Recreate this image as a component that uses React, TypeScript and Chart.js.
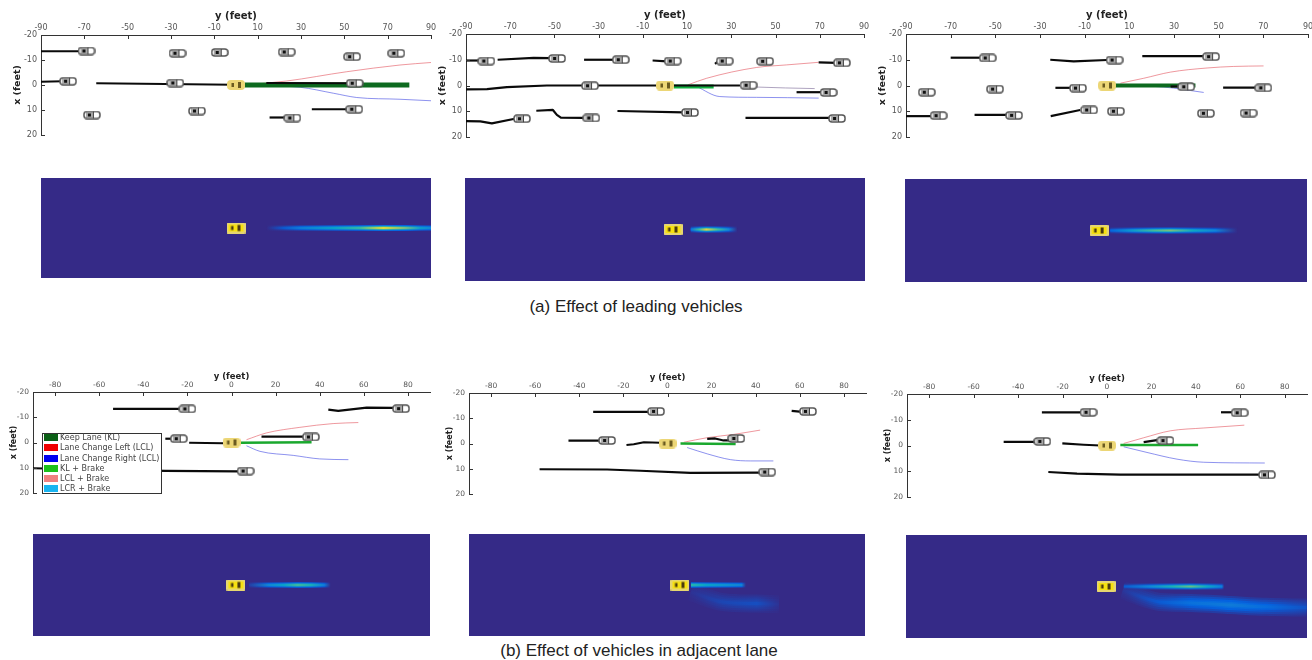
import React, { useEffect, useRef } from "react";
import { Chart, registerables } from "chart.js";

Chart.register(...registerables);

type Pt = number[];

const topTicks = [-90, -70, -50, -30, -10, 10, 30, 50, 70, 90];
const bottomTicks = [-80, -60, -40, -20, 0, 20, 40, 60, 80];
const sideTicks = [-20, -10, 0, 10, 20];

// Panel (a) left
const a1Cars: Pt[] = [[-69, -13.6], [-77.5, -1.5], [-66.5, 12], [-28, -0.8], [-27, -12.7], [-7.5, -13], [23.4, -13.2], [53.6, -11.3], [74, -12.7], [54.8, -0.7], [-18, 10.4], [54.6, 9.7], [26, 13.2]];
const a1Tracks: Pt[][] = [
  [[-90, -13.5], [-70, -13.5]],
  [[-90, -1.3], [-80, -1.5]],
  [[-64.5, -0.7], [-1, -0.1]],
  [[14, -0.8], [54, -0.7]],
  [[35, 9.7], [54, 9.7]],
  [[15.5, 13], [25, 13]],
];
const a1Keep: Pt[] = [[4, 0], [80, 0]];
const a1Left: Pt[] = [[4, 0], [23.4, -1.6], [51, -5.3], [75.7, -8], [90, -9]];
const a1Right: Pt[] = [[4, 0], [29.6, 0.9], [45, 3.3], [55.7, 5], [75.7, 5.7], [90, 6.3]];

// Panel (a) middle
const a2Cars: Pt[] = [[-80.8, -9.5], [-48.8, -10.5], [-20, -10], [3.5, -9.5], [27, -9.5], [45.3, -9.4], [80, -8.8], [-33.9, 0.1], [37.8, -0.1], [74, 2.7], [-64.7, 12.9], [-33.3, 12.6], [11.3, 10.5], [77.8, 12.8]];
const a2Tracks: Pt[][] = [
  [[-90, -9.7], [-84, -9.7]],
  [[-75.7, -10], [-59.4, -10.7], [-52, -10.6]],
  [[-36.6, -10], [-23.3, -10]],
  [[-5.6, -9.7], [0.8, -9.4]],
  [[22.6, -8.4], [24.8, -9.9]],
  [[69.5, -9], [77.5, -8.8]],
  [[-90, 1.5], [-80.5, 1.4], [-71.5, 0.6], [-53.4, 0], [-3.8, 0]],
  [[3.8, 0], [33.9, 0]],
  [[59.5, 2.6], [70.7, 2.6]],
  [[-90, 13.8], [-83.5, 13.9], [-78.3, 14.7], [-68.5, 13], [-65.5, 12.9]],
  [[-58.2, 9.8], [-50.7, 9.5], [-48.9, 11.4], [-47.1, 12.5], [-36.9, 12.6]],
  [[-21.5, 9.9], [8.3, 10.4]],
  [[36.4, 12.6], [74.5, 12.6]],
];
const a2Keep: Pt[] = [[4, 0.4], [22, 0.4]];
const a2Left: Pt[] = [[10.5, -0.3], [18.8, -2.8], [41.4, -7], [55, -8], [69.5, -9]];
const a2Right: Pt[] = [[14.3, 0.4], [24.8, 4.3], [41.4, 4.6], [69.5, 4.9]];
const a2Straight: Pt[] = [[33.9, 0.2], [41.4, 0.6], [67.7, 1.2]];

// Panel (a) right
const a3Cars: Pt[] = [[-53.4, -10.7], [3.4, -9.9], [46.6, -11.2], [-80.7, 2.6], [-50.1, 1.4], [-13, 1], [35.5, 0.5], [70, 0.9], [-75.4, 11.7], [-41.6, 11.6], [-8, 9.5], [4, 10], [44.3, 10.8], [63.4, 10.7]];
const a3Tracks: Pt[][] = [
  [[-70, -10.8], [-56, -10.8]],
  [[-25.4, -10], [-14.9, -9.4], [0, -9.9]],
  [[15.8, -11.4], [43.3, -11.4]],
  [[-23.1, 0.9], [-16.4, 0.9]],
  [[28.5, 0.4], [33, 0.4]],
  [[52, 0.8], [66.4, 0.8]],
  [[-90, 11.9], [-78.4, 11.9]],
  [[-59.3, 11.4], [-44.8, 11.4]],
  [[-25.2, 11.9], [-12, 9.5]],
];
const a3Keep: Pt[] = [[3.7, 0], [39.6, 0]];
const a3Left: Pt[] = [[6, -0.9], [16.4, -2.8], [28.4, -5.2], [44.8, -6.8], [56.7, -7.4], [70.1, -7.6]];
const a3Right: Pt[] = [[10.4, 0.1], [25.4, 0.6], [43.3, 2.7]];

// Panel (b) left
const b1Cars: Pt[] = [[-20, -13.3], [76.9, -13.4], [-23.9, -1.5], [36, -2.2], [6.4, 11.3]];
const b1Tracks: Pt[][] = [
  [[-53.7, -13.3], [-23.4, -13.3]],
  [[43.9, -13], [48.4, -12.5], [61.3, -13.8], [73.4, -13.7]],
  [[-30, -1.5], [-26.5, -1.5]],
  [[-19.2, 0.1], [-3.8, 0.3]],
  [[13.6, -2.3], [33.3, -2.3]],
  [[-90, 10.2], [-30, 11.2], [3, 11.4]],
];
const b1Keep: Pt[] = [[3.8, 0.1], [36.3, -0.1]];
const b1Left: Pt[] = [[6.8, -1.1], [15.9, -3.8], [31, -6], [46.1, -7.5], [57.5, -7.9]];
const b1Right: Pt[] = [[6.8, 1.3], [12.9, 3.5], [28, 5.1], [40, 6.5], [53, 6.8]];

// Panel (b) middle
const b2Cars: Pt[] = [[-5.2, -12.7], [63.7, -12.7], [-27.4, -1.2], [31.2, -2], [45.2, 11.3]];
const b2Tracks: Pt[][] = [
  [[-33.7, -12.5], [-8.5, -12.5]],
  [[56.3, -12.9], [61.1, -12.5]],
  [[-44.9, -1.1], [-30.3, -1.1]],
  [[-18.6, 0.6], [-15.3, 0.3], [-10.7, -0.5], [-3.2, -0.3]],
  [[18, -1.8], [21.6, -2], [25.4, -1.2], [28.5, -1.2]],
  [[-58, 10.2], [-27.4, 10.3], [-12.3, 10.8], [10.4, 11.6], [42.2, 11.5]],
];
const b2Keep: Pt[] = [[5.9, 0], [30.9, 0.2]];
const b2Left: Pt[] = [[7.4, -0.5], [18, -2.3], [30, -3.6], [42, -5.3]];
const b2Right: Pt[] = [[8.9, 1.6], [18, 4.1], [28.6, 6.4], [37.7, 6.9], [48, 6.9]];

// Panel (b) right
const b3Cars: Pt[] = [[-8.3, -12.9], [59.7, -12.7], [-29.1, -1.6], [26.3, -1.9], [72, 11.4]];
const b3Tracks: Pt[][] = [
  [[-29.3, -12.9], [-11.3, -12.9]],
  [[51.3, -12.9], [56.3, -12.9]],
  [[-46.5, -1.4], [-32.3, -1.4]],
  [[-20.1, -0.8], [-10.5, -0.3], [-3, 0]],
  [[16.5, -1.3], [22.5, -2.1]],
  [[-26.4, 10.3], [-13.5, 10.9], [6, 11.3], [69, 11.3]],
];
const b3Keep: Pt[] = [[6, -0.2], [41, -0.2]];
const b3Left: Pt[] = [[7.5, -0.8], [16.5, -3], [28.5, -5.7], [43.5, -6.8], [61.8, -7.9]];
const b3Right: Pt[] = [[7.5, 0.5], [18, 2.7], [31.5, 5.3], [43.5, 6.5], [71, 6.8]];

// Heatmap streaks: [y, x, probability]
const heatA1: Pt[] = [[14, 0, 0], [22, 0, 0.12], [30, 0, 0.25], [45, 0, 0.42], [57, 0, 0.58], [68, 0, 0.95], [78, 0, 0.7], [85, 0, 0.4], [90, 0, 0.3]];
const heatA2: Pt[] = [[8, 0, 0.2], [12, 0, 0.6], [15, 0, 0.9], [20, 0, 0.6], [25, 0, 0.3], [29, 0, 0]];
const heatA3: Pt[] = [[5, 0, 0.15], [15, 0, 0.38], [25, 0, 0.6], [32, 0, 0.68], [42, 0, 0.45], [52, 0, 0.28], [62, 0, 0]];
const heatB1: Pt[] = [[6, 0, 0.05], [15, 0, 0.3], [22, 0, 0.42], [28, 0, 0.6], [34, 0, 0.5], [40, 0, 0.25], [43, 0, 0]];
const heatB2: Pt[] = [[5, 0, 0.55], [12, 0, 0.42], [20, 0, 0.35], [28, 0, 0.28], [30, 0, 0]];
const heatB2Side: Pt[] = [[5, 2.7, 0.02], [19.5, 6.7, 0.07], [35, 7.3, 0.09], [45, 7.5, 0.02]];
const heatB3: Pt[] = [[8, 0, 0.12], [20, 0, 0.3], [30, 0, 0.5], [38, 0, 0.65], [45, 0, 0.45], [52, 0, 0.25], [53, 0, 0]];
const heatB3Side: Pt[] = [[7.6, 1.4, 0.03], [24, 6, 0.12], [38, 6.4, 0.2], [56, 7.2, 0.24], [72, 7.9, 0.18], [90, 8.2, 0.1]];

const egoPoint: Pt[] = [[0, 0]];

const legendLabels = ["Keep Lane (KL)", "Lane Change Left (LCL)", "Lane Change Right (LCL)", "KL + Brake", "LCL + Brake", "LCR + Brake"];
const legendColors = ["#0b6016", "#f00000", "#0000f0", "#1cc01c", "#f08080", "#19b4f0"];

const captionA = "(a) Effect of leading vehicles";
const captionB = "(b) Effect of vehicles in adjacent lane";

const parulaStops = ["#352a87", "#0363e1", "#1485d4", "#06a7c6", "#38b99e", "#92bf73", "#d9ba56", "#f9fb0e"];

function parula(v: number): string {
  const t = Math.max(0, Math.min(1, v)) * (parulaStops.length - 1);
  const i = Math.min(parulaStops.length - 2, Math.floor(t));
  const f = t - i;
  const rgb = (h: string) => [1, 3, 5].map((k) => parseInt(h.slice(k, k + 2), 16));
  const a = rgb(parulaStops[i]);
  const b = rgb(parulaStops[i + 1]);
  return `rgb(${a.map((c, k) => Math.round(c + (b[k] - c) * f)).join(",")})`;
}

function carIcon(): HTMLCanvasElement {
  const c = document.createElement("canvas");
  c.width = 18;
  c.height = 9;
  const g = c.getContext("2d")!;
  g.beginPath();
  g.roundRect(1, 1, 16, 7, 3);
  g.fillStyle = "#fff";
  g.fill();
  g.fillStyle = "#a8a8a8";
  g.fillRect(3, 2, 7, 5);
  g.fillStyle = "#111";
  g.fillRect(5, 3, 3, 3);
  g.strokeStyle = "#555";
  g.lineWidth = 1.5;
  g.stroke();
  g.fillStyle = "#444";
  g.fillRect(10, 1, 1, 7);
  return c;
}

function egoIcon(solid: boolean): HTMLCanvasElement {
  const c = document.createElement("canvas");
  c.width = solid ? 19 : 18;
  c.height = solid ? 11 : 10;
  const g = c.getContext("2d")!;
  const h = c.height;
  g.beginPath();
  g.roundRect(0, 0, c.width, h, solid ? 1 : 4);
  g.fillStyle = solid ? "#e6d670" : "#ecd676";
  g.fill();
  if (solid) {
    g.fillStyle = "#f6e010";
    g.fillRect(2, 2, c.width - 4, h - 4);
  }
  g.fillStyle = solid ? "#4a3a10" : "#6a5a20";
  g.fillRect(4.5, h / 2 - 2, 2.5, 4);
  g.fillRect(11, h / 2 - 3, 3, 6);
  return c;
}

const toXY = (pts: Pt[]) => pts.map((p) => ({ x: p[0], y: p[1] }));

const inwardTicks = {
  id: "inwardTicks",
  afterDatasetsDraw(chart: any) {
    const { ctx, chartArea, scales } = chart;
    ctx.save();
    ctx.strokeStyle = "#333";
    ctx.lineWidth = 1;
    ctx.beginPath();
    scales.x.ticks.forEach((t: any) => {
      const p = Math.round(scales.x.getPixelForValue(t.value)) + 0.5;
      ctx.moveTo(p, chartArea.top);
      ctx.lineTo(p, chartArea.top + 4);
    });
    scales.y.ticks.forEach((t: any) => {
      const p = Math.round(scales.y.getPixelForValue(t.value)) + 0.5;
      ctx.moveTo(chartArea.left, p);
      ctx.lineTo(chartArea.left + 4, p);
    });
    ctx.stroke();
    ctx.restore();
  },
};

type PanelDef = {
  left: number; top: number; w: number; h: number;
  axisW: number; axisH: number; right: number;
  ticks: number[]; titleSize: number; tickSize: number; tickPad: number;
  cars: Pt[]; tracks: Pt[][]; keep: Pt[]; keepColor: string; keepWidth: number;
  lcl: Pt[]; lcr: Pt[]; extra?: Pt[];
};

const panels: PanelDef[] = [
  { left: 41, top: 35, w: 390, h: 100, axisW: 29, axisH: 25, right: 12, ticks: topTicks, titleSize: 10, tickSize: 8, tickPad: 2, cars: a1Cars, tracks: a1Tracks, keep: a1Keep, keepColor: "#0d6a1f", keepWidth: 5, lcl: a1Left, lcr: a1Right },
  { left: 466, top: 34, w: 398, h: 103, axisW: 29, axisH: 25, right: 12, ticks: topTicks, titleSize: 10, tickSize: 8, tickPad: 2, cars: a2Cars, tracks: a2Tracks, keep: a2Keep, keepColor: "#12b040", keepWidth: 4, lcl: a2Left, lcr: a2Right, extra: a2Straight },
  { left: 906, top: 34, w: 402, h: 103, axisW: 29, axisH: 25, right: 4, ticks: topTicks, titleSize: 10, tickSize: 8, tickPad: 2, cars: a3Cars, tracks: a3Tracks, keep: a3Keep, keepColor: "#0d6a1f", keepWidth: 4, lcl: a3Left, lcr: a3Right },
  { left: 33, top: 392, w: 397, h: 101, axisW: 24, axisH: 20, right: 12, ticks: bottomTicks, titleSize: 8.5, tickSize: 7.5, tickPad: 2, cars: b1Cars, tracks: b1Tracks, keep: b1Keep, keepColor: "#1aa82e", keepWidth: 2.5, lcl: b1Left, lcr: b1Right },
  { left: 469, top: 393, w: 397, h: 101, axisW: 24, axisH: 20, right: 12, ticks: bottomTicks, titleSize: 8.5, tickSize: 7.5, tickPad: 2, cars: b2Cars, tracks: b2Tracks, keep: b2Keep, keepColor: "#1aa82e", keepWidth: 2.5, lcl: b2Left, lcr: b2Right },
  { left: 907, top: 394, w: 400, h: 103, axisW: 24, axisH: 20, right: 5, ticks: bottomTicks, titleSize: 8.5, tickSize: 7.5, tickPad: 2, cars: b3Cars, tracks: b3Tracks, keep: b3Keep, keepColor: "#1aa82e", keepWidth: 2.5, lcl: b3Left, lcr: b3Right },
];

type HeatDef = {
  left: number; top: number; w: number; h: number; yMin: number; yMax: number;
  main: Pt[]; side?: Pt[];
};

const heats: HeatDef[] = [
  { left: 41, top: 178, w: 390, h: 100, yMin: -90, yMax: 90, main: heatA1 },
  { left: 465, top: 178, w: 400, h: 103, yMin: -93.6, yMax: 86.4, main: heatA2 },
  { left: 905, top: 179, w: 402, h: 103, yMin: -86.9, yMax: 93.1, main: heatA3 },
  { left: 33, top: 534, w: 397, h: 102, yMin: -92, yMax: 88, main: heatB1 },
  { left: 469, top: 534, w: 396, h: 102, yMin: -95.9, yMax: 84.1, main: heatB2, side: heatB2Side },
  { left: 906, top: 535, w: 401, h: 103, yMin: -89.8, yMax: 90.2, main: heatB3, side: heatB3Side },
];

function lineDs(label: string, pts: Pt[], color: string, width: number, order: number, curved = false) {
  return {
    label, data: toXY(pts), showLine: true, borderColor: color, borderWidth: width,
    pointRadius: 0, tension: 0, order, borderCapStyle: "butt", borderJoinStyle: "round",
    cubicInterpolationMode: curved ? "monotone" : "default",
  };
}

function panelConfig(p: PanelDef): any {
  const datasets: any[] = [
    { label: "Vehicles", data: toXY(p.cars), pointStyle: carIcon(), pointRadius: 5, showLine: false, order: 0, clip: false },
    { label: "Ego", data: toXY(egoPoint), pointStyle: egoIcon(false), pointRadius: 5, showLine: false, order: 0 },
    ...p.tracks.map((t, i) => lineDs(`Track ${i + 1}`, t, "#0a0a0a", 2.2, 1)),
    lineDs(legendLabels[0], p.keep, p.keepColor, p.keepWidth, 2),
    lineDs(legendLabels[1], p.lcl, "rgba(225,70,80,0.7)", 0.8, 3, true),
    lineDs(legendLabels[2], p.lcr, "rgba(50,60,225,0.7)", 0.8, 3, true),
  ];
  if (p.extra) datasets.push(lineDs("Straight", p.extra, "rgba(110,90,140,0.7)", 0.8, 3, true));
  const zeroPad = (s: any) => {
    s.paddingLeft = 0; s.paddingRight = 0; s.paddingTop = 0; s.paddingBottom = 0;
  };
  return {
    type: "scatter",
    data: { datasets },
    plugins: [inwardTicks],
    options: {
      animation: false, responsive: false, events: [],
      layout: { autoPadding: false, padding: { top: 0, left: 0, right: p.right, bottom: 8 } },
      plugins: { legend: { display: false }, tooltip: { enabled: false } },
      scales: {
        x: {
          type: "linear", position: "top", min: -90, max: 90,
          grid: { display: false, drawTicks: false },
          border: { display: true, color: "#333", width: 1 },
          title: { display: true, text: "y (feet)", color: "#222", padding: 0, font: { family: "DejaVu Sans", size: p.titleSize, weight: "bold" } },
          ticks: { color: "#555", autoSkip: false, maxRotation: 0, padding: p.tickPad, font: { family: "DejaVu Sans", size: p.tickSize } },
          afterBuildTicks: (s: any) => { s.ticks = p.ticks.map((value) => ({ value })); },
          afterFit: (s: any) => { s.height = p.axisH; zeroPad(s); },
        },
        y: {
          type: "linear", position: "left", reverse: true, min: -20, max: 20,
          grid: { display: false, drawTicks: false },
          border: { display: true, color: "#333", width: 1 },
          title: { display: true, text: "x (feet)", color: "#222", padding: 0, font: { family: "DejaVu Sans", size: p.titleSize - 0.5, weight: "bold" } },
          ticks: { color: "#555", padding: 4, font: { family: "DejaVu Sans", size: p.tickSize } },
          afterBuildTicks: (s: any) => { s.ticks = sideTicks.map((value) => ({ value })); },
          afterFit: (s: any) => { s.width = p.axisW; zeroPad(s); },
        },
      },
    },
  };
}

function streak(pts: Pt[], width: number, gain: number, order: number, curved: boolean) {
  return {
    label: "Probability",
    data: toXY(pts),
    showLine: true,
    pointRadius: 0,
    tension: 0,
    cubicInterpolationMode: curved ? "monotone" : "default",
    order,
    borderWidth: width,
    borderCapStyle: "butt",
    borderColor: (ctx: any) => {
      const chart = ctx.chart;
      if (!chart.chartArea) return "#352a87";
      const xs = chart.scales.x;
      const a = xs.getPixelForValue(pts[0][0]);
      const b = xs.getPixelForValue(pts[pts.length - 1][0]);
      const g = chart.ctx.createLinearGradient(a, 0, b, 0);
      pts.forEach((p) => {
        const s = (xs.getPixelForValue(p[0]) - a) / (b - a);
        g.addColorStop(Math.max(0, Math.min(1, s)), parula(p[2] * gain));
      });
      return g;
    },
  };
}

function heatConfig(h: HeatDef): any {
  const datasets: any[] = [
    { label: "Ego", data: toXY(egoPoint), pointStyle: egoIcon(true), pointRadius: 5, showLine: false, order: 0 },
  ];
  if (h.side) {
    datasets.push(
      streak(h.side, 18, 0.2, 9, true),
      streak(h.side, 14, 0.4, 8, true),
      streak(h.side, 10, 0.6, 7, true),
      streak(h.side, 6, 0.8, 6, true),
      streak(h.side, 3, 1, 5, true),
    );
  }
  datasets.push(streak(h.main, 6, 0.2, 4, false), streak(h.main, 4, 0.5, 3, false), streak(h.main, 2.5, 0.8, 2, false), streak(h.main, 1.5, 1, 1, false));
  return {
    type: "scatter",
    data: { datasets },
    options: {
      animation: false, responsive: false, events: [],
      layout: { autoPadding: false },
      plugins: { legend: { display: false }, tooltip: { enabled: false } },
      scales: {
        x: { type: "linear", display: false, min: h.yMin, max: h.yMax },
        y: { type: "linear", display: false, reverse: true, min: -20, max: 20 },
      },
    },
  };
}

function ChartCanvas({ make, left, top, width, height, background, blur }: any) {
  const ref = useRef<HTMLCanvasElement>(null);
  useEffect(() => {
    const chart = new Chart(ref.current as HTMLCanvasElement, make());
    return () => chart.destroy();
  }, []);
  return (
    <canvas
      ref={ref}
      width={width}
      height={height}
      style={{ position: "absolute", left, top, width, height, background, filter: `blur(${blur}px)` }}
    />
  );
}

function captionStyle(top: number, center: number): React.CSSProperties {
  return {
    position: "absolute", top, left: center - 300, width: 600, textAlign: "center",
    font: '17px "Liberation Sans", Arial, sans-serif', color: "#222", lineHeight: "18px",
  };
}

export default function App() {
  return (
    <div style={{ position: "absolute", left: 0, top: 0, width: 1312, height: 660, overflow: "hidden", background: "#fff" }}>
      {panels.map((p, i) => (
        <ChartCanvas
          key={`p${i}`}
          make={() => panelConfig(p)}
          left={p.left - p.axisW}
          top={p.top - p.axisH}
          width={p.axisW + p.w + p.right}
          height={p.axisH + p.h + 8}
          blur={0.7}
        />
      ))}
      {heats.map((h, i) => (
        <ChartCanvas
          key={`h${i}`}
          make={() => heatConfig(h)}
          left={h.left}
          top={h.top}
          width={h.w}
          height={h.h}
          background="#352a87"
          blur={0.7}
        />
      ))}
      <div
        style={{
          position: "absolute", left: 42, top: 433, width: 118, height: 59, border: "1.5px solid #333",
          background: "#fff", filter: "blur(0.5px)",
        }}
      >
        {legendLabels.map((label, i) => (
          <div key={label} style={{ position: "absolute", left: 1, top: -1.2 + i * 10.1, height: 10, display: "flex", alignItems: "center" }}>
            <span style={{ display: "inline-block", width: 14, height: 7, background: legendColors[i], marginRight: 2 }} />
            <span style={{ font: '8px "DejaVu Sans"', color: "#444", whiteSpace: "nowrap" }}>{label}</span>
          </div>
        ))}
      </div>
      <div style={captionStyle(298, 636)}>{captionA}</div>
      <div style={captionStyle(642, 639)}>{captionB}</div>
    </div>
  );
}
